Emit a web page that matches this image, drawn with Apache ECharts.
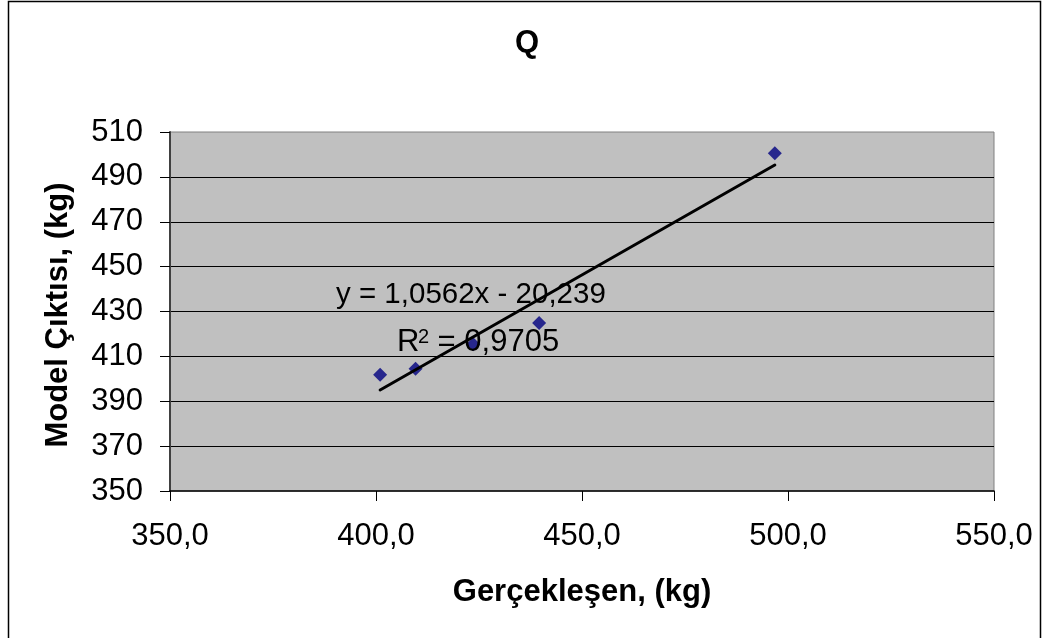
<!DOCTYPE html>
<html>
<head>
<meta charset="utf-8">
<script src="https://cdn.jsdelivr.net/npm/echarts@6/dist/echarts.min.js"></script>
<style>
  html, body { margin: 0; padding: 0; background: #fff; }
  #chart { width: 1045px; height: 638px; }
</style>
</head>
<body>
<div id="chart"></div>
<script>
// gerçekleşen (x) ve model çıktısı (y)
const actual = [401.0, 409.6, 423.6, 439.6, 496.8];
const model = [401.8, 404.5, 415.4, 424.9, 500.5];
// trend çizgisi uçları
const trendX = [401.0, 496.8];
const trendY = [395.0, 495.3];
const xTicks = [350, 400, 450, 500, 550];
const yTicks = [350, 370, 390, 410, 430, 450, 470, 490, 510];
const eqText = 'y = 1,0562x - 20,239';
const r2Value = '0,9705';

const FONT = "'Liberation Sans', Arial, sans-serif";
const FS = 31;

const chart = echarts.init(document.getElementById('chart'), null, { renderer: 'canvas' });

const points = actual.map((x, i) => [x, model[i]]);
const trend = trendX.map((x, i) => [x, trendY[i]]);

const option = {
  backgroundColor: '#fff',
  animation: false,
  title: {
    text: 'Q',
    left: 510,
    top: 23,
    textStyle: { fontFamily: FONT, fontSize: FS, fontWeight: 'bold', color: '#000' }
  },
  grid: {
    left: 170, right: 51, top: 132, bottom: 147,
    show: true,
    backgroundColor: '#c0c0c0',
    borderColor: '#808080',
    borderWidth: 1
  },
  xAxis: {
    type: 'value',
    min: xTicks[0], max: xTicks[xTicks.length - 1], interval: 50,
    name: 'Gerçekleşen, (kg)',
    nameLocation: 'middle',
    nameGap: 86,
    nameTextStyle: { fontFamily: FONT, fontSize: FS, fontWeight: 'bold', color: '#000' },
    axisLine: { show: true, onZero: false, lineStyle: { color: '#000', width: 1.5 } },
    axisTick: { show: true, length: 10, lineStyle: { color: '#000' } },
    axisLabel: {
      fontFamily: FONT, fontSize: FS, color: '#000', margin: 30,
      formatter: v => v.toFixed(1).replace('.', ',')
    },
    splitLine: { show: false }
  },
  yAxis: {
    type: 'value',
    min: yTicks[0], max: yTicks[yTicks.length - 1], interval: 20,
    name: 'Model Çıktısı, (kg)',
    nameLocation: 'middle',
    nameGap: 96,
    nameTextStyle: {
      fontFamily: FONT, fontSize: FS, fontWeight: 'bold', color: '#000',
      padding: [0, 7, 0, 0]
    },
    axisLine: { show: true, onZero: false, lineStyle: { color: '#404040', width: 2 } },
    axisTick: { show: true, length: 10, lineStyle: { color: '#000' } },
    axisLabel: { fontFamily: FONT, fontSize: FS, color: '#000', margin: 27 },
    splitLine: { show: true, showMinLine: false, showMaxLine: false, lineStyle: { color: '#000', width: 1 } }
  },
  series: [
    {
      type: 'scatter',
      data: points,
      symbol: 'diamond',
      symbolSize: 14,
      itemStyle: { color: '#000080' },
      z: 3
    },
    {
      type: 'line',
      data: trend,
      symbol: 'none',
      lineStyle: { color: '#000', width: 3, cap: 'round' },
      z: 4
    }
  ],
  graphic: [
    {
      type: 'rect',
      shape: { x: 8.5, y: 1.5, width: 1032, height: 700 },
      style: { fill: 'none', stroke: '#000', lineWidth: 1.5 },
      silent: true
    },
    {
      type: 'text',
      x: 336, y: 295, z: 10,
      style: { text: eqText, font: '29.5px ' + FONT, fill: '#000', verticalAlign: 'middle' }
    },
    // R² : R, üst simge 2, ve değer ayrı ayrı
    {
      type: 'text',
      x: 397, y: 342, z: 10,
      style: { text: 'R', font: FS + 'px ' + FONT, fill: '#000', verticalAlign: 'middle' }
    },
    {
      type: 'text',
      x: 418, y: 327, z: 10,
      style: { text: '2', font: '20px ' + FONT, fill: '#000', verticalAlign: 'top' }
    },
    {
      type: 'text',
      x: 429, y: 342, z: 10,
      style: { text: ' = ' + r2Value, font: FS + 'px ' + FONT, fill: '#000', verticalAlign: 'middle' }
    }
  ]
};

chart.setOption(option);
</script>
</body>
</html>
